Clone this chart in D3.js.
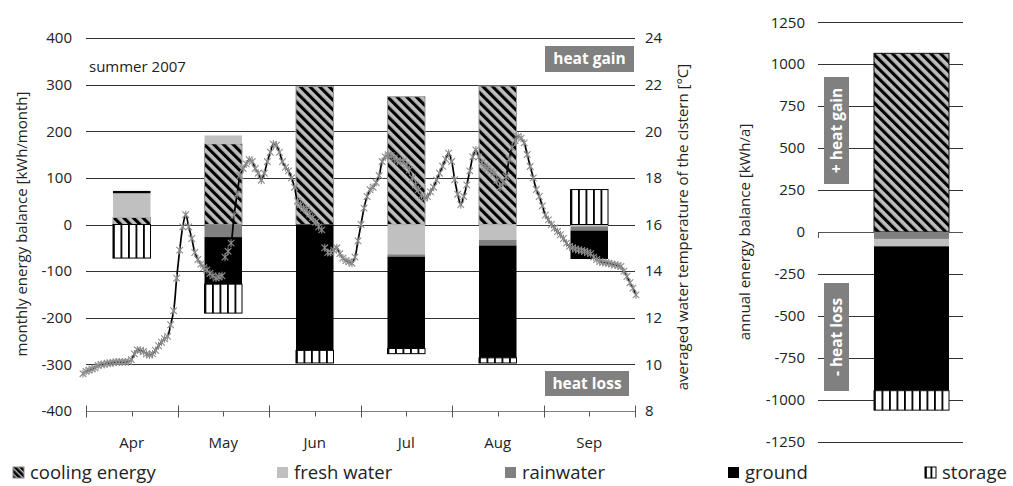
<!DOCTYPE html>
<html>
<head>
<meta charset="utf-8">
<script src="https://cdn.jsdelivr.net/npm/d3@7"></script>
<style>
  body { margin: 0; background: #fff; }
  text { font-family: "Open Sans", sans-serif; fill: #222; }
</style>
</head>
<body>
<div id="chart"></div>
<script>
// monthly energy balance [kWh/month], summer 2007
const months = ["Apr", "May", "Jun", "Jul", "Aug", "Sep"]
const cooling = [15, 173, 296, 274, 297, 0]
const freshWater = [52, 18, 0, -64, -33, -4]
const rainwater = [0, -27, 0, -5, -12, -9]
const ground = [5, -101, -270, -197, -241, -61]
const storage = [-72, -62, -27, -11, -11, 75]

// annual energy balance [kWh/a]
const annualKeys = ["cooling", "rainwater", "freshWater", "ground", "storage"]
const annualValues = [1065, -42, -44, -861, -116]

// daily averaged water temperature of the cistern [°C], 1 Apr - 1 Oct
const temperature = [
  9.6, 9.7, 9.75, 9.8, 9.85, 9.95, 10.0, 10.0, 10.05, 10.05,
  10.08, 10.1, 10.1, 10.1, 10.1, 10.12, 10.2, 10.45, 10.62, 10.6,
  10.55, 10.45, 10.4, 10.45, 10.6, 10.8, 10.95, 11.1, 11.2, 11.7,
  12.3, 13.7, 14.9, 15.9, 16.42, 15.9, 15.4, 14.8, 14.5, 14.3,
  14.15, 14.05, 13.9, 13.8, 13.7, 13.75, 13.8, 14.6, 14.85, 15.2,
  16.4, 17.3, 18.1, 18.4, 18.6, 18.78, 18.7, 18.4, 18.2, 17.9,
  18.2, 18.7, 19.1, 19.45, 19.4, 19.1, 18.7, 18.45, 18.3, 18.0,
  17.6, 17.0, 16.85, 16.7, 16.63, 16.45, 16.3, 16.1, 15.9, 15.77,
  15.0, 14.8, 14.8, 14.9, 15.0, 14.75, 14.56, 14.45, 14.4, 14.34,
  14.6, 15.3, 16.0, 16.7, 17.2, 17.49, 17.6, 17.8, 18.1, 18.7,
  18.9, 18.99, 18.95, 18.85, 18.75, 18.7, 18.7, 18.55, 18.35, 18.0,
  17.7, 17.5, 17.25, 17.13, 17.2, 17.4, 17.6, 17.9, 18.2, 18.5,
  18.8, 19.06, 18.7, 17.92, 17.3, 16.85, 17.2, 17.7, 18.3, 18.9,
  19.2, 18.9, 18.65, 18.49, 18.4, 18.3, 18.2, 17.9, 17.6, 17.8,
  18.06, 18.8, 19.3, 19.6, 19.78, 19.7, 19.5, 19.0, 18.49, 18.0,
  17.5, 17.2, 16.8, 16.4, 16.2, 16.0, 15.85, 15.7, 15.56, 15.4,
  15.2, 15.06, 15.0, 14.95, 14.91, 14.88, 14.85, 14.8, 14.75, 14.6,
  14.5, 14.41, 14.38, 14.36, 14.34, 14.3, 14.27, 14.24, 14.2, 14.0,
  13.77, 13.5, 13.27, 12.98
]

const energyTicks = d3.range(-400, 401, 100)
const tempTicks = d3.range(8, 25, 2)
const annualTicks = d3.range(-1250, 1251, 250)

const keys = ["cooling", "freshWater", "rainwater", "ground", "storage"]
const labels = {
  cooling: "cooling energy", freshWater: "fresh water", rainwater: "rainwater",
  ground: "ground", storage: "storage"
}
const fills = {
  cooling: "url(#hatch)", freshWater: "#c0c0c0", rainwater: "#808080",
  ground: "#000", storage: "url(#stripe5)"
}

const width = 1013
const height = 486

const svg = d3.select("#chart")
  .append("svg")
  .attr("width", width)
  .attr("height", height)

// patterns
const defs = svg.append("defs")
function hatchPattern(id, size, black) {
  const p = defs.append("pattern")
    .attr("id", id)
    .attr("patternUnits", "userSpaceOnUse")
    .attr("width", size)
    .attr("height", size)
    .attr("patternTransform", "rotate(-45)")
  p.append("rect").attr("width", size).attr("height", size).attr("fill", "#bdbdbd")
  p.append("rect").attr("width", black).attr("height", size).attr("fill", "#000")
}
hatchPattern("hatch", 6.8, 3.1)
hatchPattern("hatchL", 4, 2.6)

function stripe(id, frac) {
  const p = defs.append("pattern")
    .attr("id", id)
    .attr("patternUnits", "objectBoundingBox")
    .attr("width", frac)
    .attr("height", 1)
  p.append("rect").attr("width", 200).attr("height", 2000).attr("fill", "#fff")
  p.append("rect").attr("width", 1.8).attr("height", 2000).attr("fill", "#000")
}
stripe("stripe5", 0.2)
stripe("stripe10", 0.1)
stripe("stripe2", 0.5)

// ---------- monthly chart ----------
const x = d3.scaleBand().domain(months).range([86, 635])
const y = d3.scaleLinear().domain([-400, 400]).range([411, 38])
const yT = d3.scaleLinear().domain([8, 24]).range([411, 38])
const xDay = d3.scaleLinear().domain([0, temperature.length - 1]).range([83, 636])

const left = svg.append("g")

left.selectAll(".grid")
  .data(energyTicks.filter(d => d > -400))
  .join("line")
  .attr("x1", 86).attr("x2", 635)
  .attr("y1", d => Math.round(y(d)) + 0.5).attr("y2", d => Math.round(y(d)) + 0.5)
  .attr("stroke", "#333")
  .attr("stroke-width", 1)

left.selectAll(".ylab")
  .data(energyTicks)
  .join("text")
  .attr("x", 72)
  .attr("y", d => y(d))
  .attr("dy", "0.35em")
  .attr("text-anchor", "end")
  .attr("font-size", 15)
  .text(d => d)

left.selectAll(".tlab")
  .data(tempTicks)
  .join("text")
  .attr("x", 645)
  .attr("y", d => yT(d))
  .attr("dy", "0.35em")
  .attr("font-size", 15)
  .text(d => d)

// x axis
const axisY = Math.round(y(-400)) + 0.5
left.append("line")
  .attr("x1", 86).attr("x2", 635)
  .attr("y1", axisY).attr("y2", axisY)
  .attr("stroke", "#808080")
const bounds = months.map(m => x(m)).concat([x.range()[1]])
left.selectAll(".major")
  .data(bounds)
  .join("line")
  .attr("x1", d => Math.round(d) + 0.5).attr("x2", d => Math.round(d) + 0.5)
  .attr("y1", axisY - 6).attr("y2", axisY + 6)
  .attr("stroke", "#555")
left.selectAll(".minor")
  .data(months)
  .join("line")
  .attr("x1", d => Math.round(x(d) + x.bandwidth() / 2) + 0.5)
  .attr("x2", d => Math.round(x(d) + x.bandwidth() / 2) + 0.5)
  .attr("y1", axisY).attr("y2", axisY + 5)
  .attr("stroke", "#555")
left.selectAll(".mlab")
  .data(months)
  .join("text")
  .attr("x", d => x(d) + x.bandwidth() / 2)
  .attr("y", 448)
  .attr("text-anchor", "middle")
  .attr("font-size", 15)
  .text(d => d)

// stacked bars
const rows = months.map((m, i) => ({
  month: m, cooling: cooling[i], freshWater: freshWater[i],
  rainwater: rainwater[i], ground: ground[i], storage: storage[i]
}))
const series = d3.stack().keys(keys).offset(d3.stackOffsetDiverging)(rows)
const barW = x.bandwidth() * 0.41

left.selectAll(".series")
  .data(series)
  .join("g")
  .attr("fill", s => fills[s.key])
  .attr("stroke", s => s.key === "cooling" ? "#999" : s.key === "storage" ? "#000" : "none")
  .selectAll("rect")
  .data(s => s.filter(d => d[1] - d[0] !== 0))
  .join("rect")
  .attr("x", d => x(d.data.month) + (x.bandwidth() - barW) / 2)
  .attr("width", barW)
  .attr("y", d => y(d[1]))
  .attr("height", d => y(d[0]) - y(d[1]))

// temperature line
const line = d3.line()
  .x((d, i) => xDay(i))
  .y(d => yT(d))
  .curve(d3.curveCatmullRom)
left.append("path")
  .datum(temperature)
  .attr("d", line)
  .attr("fill", "none")
  .attr("stroke", "#000")
  .attr("stroke-width", 1.7)
left.selectAll(".mark")
  .data(temperature)
  .join("path")
  .attr("transform", (d, i) => `translate(${xDay(i)},${yT(d)})`)
  .attr("d", "M-3.3,-3.3L3.3,3.3M3.3,-3.3L-3.3,3.3M0,-4V4")
  .attr("stroke", "#8c8c8c")
  .attr("stroke-width", 1.1)
  .attr("fill", "none")

left.append("text")
  .attr("x", 89).attr("y", 72)
  .attr("font-size", 15)
  .text("summer 2007")

function tag(g, x0, y0, w, h, txt, rotate) {
  g.append("rect").attr("x", x0).attr("y", y0).attr("width", w).attr("height", h).attr("fill", "#808080")
  const t = g.append("text")
    .attr("text-anchor", "middle")
    .attr("dy", "0.35em")
    .attr("font-size", 15.5)
    .attr("font-weight", "bold")
    .style("fill", "#fff")
    .text(txt)
  if (rotate) t.attr("transform", `translate(${x0 + w / 2},${y0 + h / 2}) rotate(-90)`)
  else t.attr("x", x0 + w / 2).attr("y", y0 + h / 2)
}
tag(left, 545, 46, 89, 26, "heat gain", false)
tag(left, 545, 371, 84, 25, "heat loss", false)

svg.append("text")
  .attr("transform", "translate(22,224) rotate(-90)")
  .attr("text-anchor", "middle")
  .attr("dy", "0.35em")
  .attr("font-size", 15)
  .text("monthly energy balance [kWh/month]")
svg.append("text")
  .attr("transform", "translate(683,227) rotate(-90)")
  .attr("text-anchor", "middle")
  .attr("dy", "0.35em")
  .attr("font-size", 15)
  .text("averaged water temperature of the cistern [°C]")

// ---------- annual chart ----------
const yA = d3.scaleLinear().domain([-1250, 1250]).range([441.5, 22.3])
const xA = d3.scaleBand().domain(["2007"]).range([874, 949])
const right = svg.append("g")

right.selectAll(".agrid")
  .data(annualTicks.filter(d => d !== 0))
  .join("line")
  .attr("x1", 818).attr("x2", 963)
  .attr("y1", d => Math.round(yA(d)) + 0.5).attr("y2", d => Math.round(yA(d)) + 0.5)
  .attr("stroke", "#333")
right.append("line")
  .attr("x1", 818).attr("x2", 963)
  .attr("y1", Math.round(yA(0)) + 0.5).attr("y2", Math.round(yA(0)) + 0.5)
  .attr("stroke", "#555")
right.append("line")
  .attr("x1", 818.5).attr("x2", 818.5)
  .attr("y1", Math.round(yA(0))).attr("y2", Math.round(yA(0)) + 6)
  .attr("stroke", "#555")
right.selectAll(".alab")
  .data(annualTicks)
  .join("text")
  .attr("x", 805)
  .attr("y", d => yA(d))
  .attr("dy", "0.35em")
  .attr("text-anchor", "end")
  .attr("font-size", 15)
  .text(d => d)

const annualRow = { year: "2007" }
annualKeys.forEach((k, i) => { annualRow[k] = annualValues[i] })
const aSeries = d3.stack().keys(annualKeys).offset(d3.stackOffsetDiverging)([annualRow])
const aFills = Object.assign({}, fills, { storage: "url(#stripe10)" })

right.selectAll(".aseries")
  .data(aSeries)
  .join("rect")
  .attr("x", xA("2007"))
  .attr("width", xA.bandwidth())
  .attr("y", s => yA(s[0][1]))
  .attr("height", s => yA(s[0][0]) - yA(s[0][1]))
  .attr("fill", s => aFills[s.key])
  .attr("stroke", s => s.key === "cooling" || s.key === "storage" ? "#111" : "none")

tag(right, 824, 77, 25, 107, "+ heat gain", true)
tag(right, 824, 283, 25, 108, "- heat loss", true)

svg.append("text")
  .attr("transform", "translate(745,232) rotate(-90)")
  .attr("text-anchor", "middle")
  .attr("dy", "0.35em")
  .attr("font-size", 15)
  .text("annual energy balance [kWh/a]")

// ---------- legend ----------
const legendX = [13, 277, 505, 728, 925]
const legendFills = Object.assign({}, fills, { cooling: "url(#hatchL)", storage: "url(#stripe2)" })
const legend = svg.selectAll(".legend")
  .data(keys)
  .join("g")
  .attr("transform", (d, i) => `translate(${legendX[i]},467)`)
legend.append("rect")
  .attr("width", 11).attr("height", 11)
  .attr("fill", d => legendFills[d])
  .attr("stroke", d => d === "storage" ? "#000" : d === "cooling" ? "#888" : "none")
legend.append("text")
  .attr("x", 17)
  .attr("y", 12)
  .attr("font-size", 18.5)
  .text(d => labels[d])
</script>
</body>
</html>
